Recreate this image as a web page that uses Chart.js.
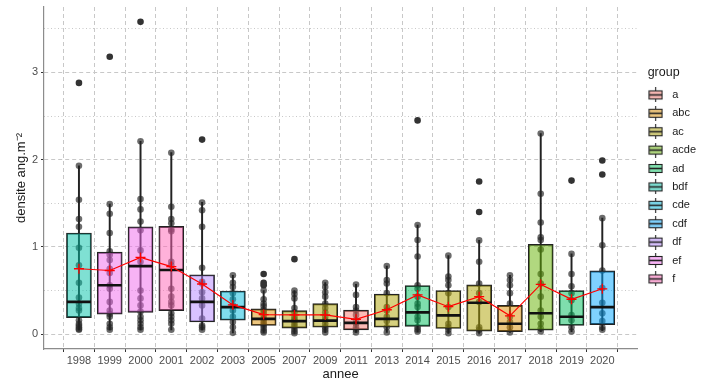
<!DOCTYPE html>
<html>
<head>
<meta charset="utf-8">
<script src="https://cdn.jsdelivr.net/npm/chart.js@4.4.1/dist/chart.umd.min.js"></script>
<style>
  html, body { margin: 0; padding: 0; background: #fff; }
  #wrap { width: 706px; height: 382px; }
</style>
</head>
<body>
<div id="wrap"><canvas id="densite-chart"></canvas></div>
<script>
// one entry per year (annee)
const years = ['1998', '1999', '2000', '2001', '2002', '2003', '2005', '2007', '2009',
               '2011', '2013', '2014', '2015', '2016', '2017', '2018', '2019', '2020'];
const year_group = ['bdf', 'ef', 'ef', 'f', 'df', 'cde', 'abc', 'ac', 'ac',
                    'a', 'ac', 'ad', 'ac', 'ac', 'abc', 'acde', 'ad', 'cdf'];

// boxplot stats
const q1 =         [0.19, 0.23, 0.25, 0.27, 0.14, 0.16, 0.10, 0.07, 0.08, 0.05, 0.08, 0.09, 0.065, 0.035, 0.03, 0.045, 0.10, 0.11];
const median =     [0.37, 0.56, 0.78, 0.735, 0.37, 0.31, 0.175, 0.15, 0.155, 0.13, 0.175, 0.25, 0.215, 0.36, 0.12, 0.24, 0.20, 0.31];
const q3 =         [1.16, 0.94, 1.23, 1.235, 0.68, 0.495, 0.29, 0.27, 0.35, 0.275, 0.46, 0.557, 0.50, 0.565, 0.33, 1.03, 0.50, 0.725];
const whisker_lo = [0.05, 0.05, 0.05, 0.05, 0.05, 0.015, 0.02, 0.01, 0.02, 0.02, 0.02, 0.03, 0.01, 0.01, 0.02, 0.03, 0.03, 0.04];
const whisker_hi = [1.93, 1.49, 2.21, 2.08, 1.51, 0.675, 0.50, 0.50, 0.59, 0.57, 0.78, 1.25, 0.90, 1.075, 0.675, 2.30, 0.92, 1.33];
const means =      [0.75, 0.73, 0.88, 0.775, 0.575, 0.335, 0.225, 0.22, 0.22, 0.17, 0.28, 0.45, 0.315, 0.43, 0.21, 0.57, 0.40, 0.52];

// individual observations (inside whiskers) and outliers
const year_points = [
    [1.93, 1.54, 1.32, 1.23, 0.99, 0.79, 0.59, 0.42, 0.35, 0.30, 0.27, 0.16, 0.12, 0.10, 0.08, 0.06, 0.05],
    [1.49, 1.38, 1.16, 0.95, 0.91, 0.85, 0.75, 0.70, 0.56, 0.52, 0.37, 0.27, 0.23, 0.20, 0.12, 0.08, 0.05],
    [2.21, 1.55, 1.43, 1.29, 1.19, 0.96, 0.83, 0.50, 0.41, 0.33, 0.26, 0.20, 0.16, 0.12, 0.08, 0.05],
    [2.08, 1.46, 1.32, 1.27, 1.20, 1.18, 0.83, 0.79, 0.52, 0.43, 0.37, 0.33, 0.24, 0.20, 0.16, 0.12, 0.05],
    [1.51, 1.42, 1.23, 0.76, 0.60, 0.58, 0.48, 0.41, 0.33, 0.18, 0.10, 0.08, 0.05],
    [0.675, 0.59, 0.54, 0.47, 0.40, 0.33, 0.27, 0.20, 0.14, 0.08, 0.015],
    [0.50, 0.40, 0.35, 0.32, 0.28, 0.25, 0.22, 0.18, 0.15, 0.12, 0.10, 0.07, 0.04, 0.02],
    [0.50, 0.46, 0.41, 0.30, 0.25, 0.20, 0.17, 0.15, 0.12, 0.09, 0.06, 0.03, 0.01],
    [0.59, 0.54, 0.48, 0.43, 0.35, 0.30, 0.25, 0.20, 0.16, 0.12, 0.08, 0.05, 0.02],
    [0.57, 0.45, 0.31, 0.27, 0.22, 0.16, 0.12, 0.08, 0.05, 0.02],
    [0.78, 0.62, 0.58, 0.47, 0.31, 0.27, 0.20, 0.15, 0.08, 0.02],
    [1.25, 1.08, 0.89, 0.56, 0.52, 0.43, 0.35, 0.31, 0.20, 0.16, 0.08, 0.05, 0.03],
    [0.90, 0.66, 0.62, 0.56, 0.47, 0.31, 0.12, 0.08, 0.05, 0.01],
    [1.075, 0.83, 0.58, 0.47, 0.37, 0.08, 0.05, 0.01],
    [0.675, 0.62, 0.56, 0.47, 0.35, 0.20, 0.14, 0.08, 0.02],
    [2.30, 1.61, 1.28, 1.11, 1.08, 0.97, 0.69, 0.58, 0.43, 0.27, 0.20, 0.12, 0.065, 0.03],
    [0.92, 0.69, 0.55, 0.47, 0.39, 0.22, 0.16, 0.08, 0.03],
    [1.33, 1.02, 0.73, 0.53, 0.36, 0.24, 0.15, 0.08, 0.05]
];
const year_outliers = [
    [2.88], [3.18], [3.58], [], [2.23], [], [0.69, 0.59, 0.56], [0.86], [],
    [], [], [2.45], [], [1.75, 1.40], [], [], [1.76], [1.99, 1.83]
];

const group_names = ['a', 'abc', 'ac', 'acde', 'ad', 'bdf', 'cde', 'cdf', 'df', 'ef', 'f'];
const group_colors = ['#F8766D', '#DB8E00', '#AEA200', '#64B200', '#00BD5C', '#00C1A7',
                      '#00BADE', '#00A6FF', '#B385FF', '#EF67EB', '#FF63B6'];

const y_major = [0, 1, 2, 3];
const y_minor = [0.5, 1.5, 2.5, 3.5];
const y_min = -0.17;
const y_max = 3.75;

const font_family = "'Liberation Sans', Arial, sans-serif";
Chart.defaults.font.family = font_family;

function with_alpha(hex, a) {
    let r = parseInt(hex.slice(1, 3), 16);
    let g = parseInt(hex.slice(3, 5), 16);
    let b = parseInt(hex.slice(5, 7), 16);
    return "rgba(" + r + "," + g + "," + b + "," + a + ")";
}

function color_of(group) {
    return with_alpha(group_colors[group_names.indexOf(group)], 0.5);
}

// small boxplot key for the legend
function legend_glyph(color) {
    let c = document.createElement('canvas');
    c.width = 15;
    c.height = 15;
    let g = c.getContext('2d');
    g.strokeStyle = '#222';
    g.lineWidth = 1.1;
    g.beginPath();
    g.moveTo(7.5, 0);
    g.lineTo(7.5, 15);
    g.stroke();
    g.fillStyle = '#fff';
    g.fillRect(1, 3.5, 13, 8);
    g.fillStyle = with_alpha(color, 0.5);
    g.fillRect(1, 3.5, 13, 8);
    g.strokeRect(1, 3.5, 13, 8);
    g.lineWidth = 1.6;
    g.beginPath();
    g.moveTo(1, 7.5);
    g.lineTo(14, 7.5);
    g.stroke();
    return c;
}
const legend_glyphs = group_colors.map(legend_glyph);

const point_data = year_points.flatMap((vals, i) => vals.map(v => ({x: i, y: v})));
const outlier_data = year_outliers.flatMap((vals, i) => vals.map(v => ({x: i, y: v})));

const ctx = document.getElementById('densite-chart');
new Chart(ctx, {
    type: 'bar',
    data: {
        datasets: [
            {
                type: 'line',
                label: 'moyenne',
                data: means.map((m, i) => ({x: i, y: m})),
                borderColor: '#ff0000',
                borderWidth: 1.2,
                tension: 0,
                pointStyle: 'cross',
                pointRadius: 5,
                pointBorderColor: '#ff0000',
                pointBorderWidth: 1.3,
                order: 1
            },
            {
                type: 'scatter',
                label: 'mediane',
                data: median.map((m, i) => ({x: i, y: m})),
                pointStyle: 'line',
                pointRadius: 12,
                pointBorderColor: '#111',
                pointBorderWidth: 2.6,
                order: 2
            },
            {
                type: 'bar',
                label: 'boite',
                data: q1.map((v, i) => ({x: i, y: [v, q3[i]]})),
                backgroundColor: year_group.map(color_of),
                borderColor: '#222',
                borderWidth: 1.2,
                borderSkipped: false,
                barThickness: 25,
                grouped: false,
                order: 3
            },
            {
                type: 'bar',
                label: 'moustache',
                data: whisker_lo.map((v, i) => ({x: i, y: [v, whisker_hi[i]]})),
                backgroundColor: '#222',
                barThickness: 1.3,
                grouped: false,
                order: 4
            },
            {
                type: 'scatter',
                label: 'points',
                data: point_data,
                pointRadius: 3.3,
                pointBackgroundColor: 'rgba(45,45,45,0.7)',
                pointBorderWidth: 0,
                order: 5
            },
            {
                type: 'scatter',
                label: 'outliers',
                data: outlier_data,
                pointRadius: 3.3,
                pointBackgroundColor: '#333',
                pointBorderWidth: 0,
                order: 5
            }
        ]
    },
    options: {
        responsive: true,
        maintainAspectRatio: false,
        animation: false,
        events: [],
        layout: {
            autoPadding: false,
            padding: {top: 7, right: 0, bottom: 0, left: 0}
        },
        scales: {
            x: {
                type: 'linear',
                min: -0.6,
                max: 17.6,
                afterBuildTicks: axis => {
                    axis.ticks = years.map((_, i) => ({value: i}));
                },
                afterFit: axis => {
                    axis.height = 33;
                },
                ticks: {
                    callback: v => years[v],
                    color: '#4d4d4d',
                    font: {size: 11},
                    padding: 2,
                    maxRotation: 0,
                    autoSkip: false
                },
                grid: {
                    color: '#c8c8c8',
                    lineWidth: 1,
                    tickColor: '#333',
                    tickLength: 3,
                    tickWidth: 1
                },
                border: {
                    color: '#8c8c8c',
                    width: 1.2,
                    dash: [4, 3]
                },
                title: {
                    display: true,
                    text: 'annee',
                    color: '#1a1a1a',
                    font: {size: 13},
                    padding: {top: 0, bottom: 0}
                }
            },
            y: {
                type: 'linear',
                min: y_min,
                max: y_max,
                afterBuildTicks: axis => {
                    axis.ticks = y_major.map(v => ({value: v}));
                },
                afterFit: axis => {
                    axis.width = 44;
                    axis.paddingTop = 0;
                    axis.paddingBottom = 0;
                },
                ticks: {
                    color: '#4d4d4d',
                    font: {size: 11},
                    padding: 3,
                    autoSkip: false
                },
                grid: {
                    color: '#c8c8c8',
                    lineWidth: 1,
                    tickColor: '#333',
                    tickLength: 3,
                    tickWidth: 1
                },
                border: {
                    color: '#8c8c8c',
                    width: 1.2,
                    dash: [4, 3]
                },
                title: {
                    display: true,
                    text: 'densite ang.m\u207B\u00B2',
                    color: '#1a1a1a',
                    font: {size: 13},
                    padding: {top: 14, bottom: 0}
                }
            },
            // dotted minor grid lines at the half units
            y_minor: {
                type: 'linear',
                position: 'left',
                min: y_min,
                max: y_max,
                afterBuildTicks: axis => {
                    axis.ticks = y_minor.map(v => ({value: v}));
                },
                afterFit: axis => {
                    axis.width = 0;
                    axis.paddingTop = 0;
                    axis.paddingBottom = 0;
                },
                ticks: {display: false},
                grid: {
                    color: '#c8c8c8',
                    lineWidth: 1,
                    drawTicks: false
                },
                border: {
                    display: false,
                    dash: [1, 2.5]
                }
            }
        },
        plugins: {
            tooltip: {enabled: false},
            legend: {
                position: 'right',
                align: 'start',
                title: {
                    display: true,
                    text: '   group',
                    color: '#1a1a1a',
                    font: {size: 12.5},
                    position: 'start',
                    padding: {top: 59, bottom: 1}
                },
                labels: {
                    usePointStyle: true,
                    pointStyleWidth: 22,
                    padding: 7.4,
                    color: '#1a1a1a',
                    font: {size: 11},
                    generateLabels: () => group_names.map((g, i) => ({
                        text: g,
                        pointStyle: legend_glyphs[i],
                        fillStyle: with_alpha(group_colors[i], 0.5),
                        strokeStyle: '#222',
                        lineWidth: 0,
                        hidden: false,
                        index: i
                    }))
                }
            }
        }
    }
});
</script>
</body>
</html>
